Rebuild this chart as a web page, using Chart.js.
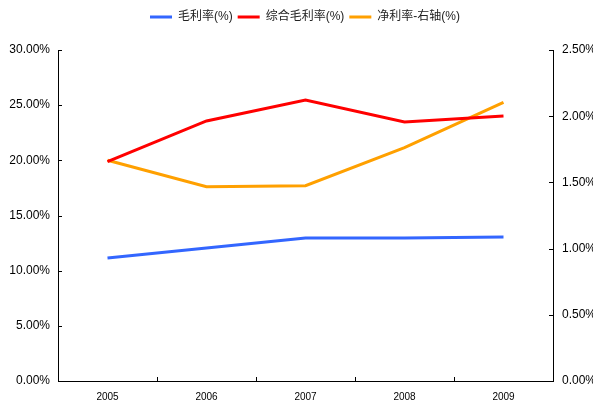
<!DOCTYPE html>
<html>
<head>
<meta charset="utf-8">
<script src="https://cdn.jsdelivr.net/npm/chart.js@4/dist/chart.umd.min.js"></script>
<style>
html,body{margin:0;padding:0;background:#fff;overflow:hidden;}
#wrap{width:593px;height:403px;overflow:hidden;position:relative;}
canvas{display:block;}
</style>
</head>
<body>
<div id="wrap"><canvas id="c" width="610" height="403"></canvas></div>
<script>
const categories = ['2005', '2006', '2007', '2008', '2009'];
const grossMargin = [11.15, 12.05, 12.96, 12.96, 13.05];
const compGrossMargin = [19.88, 23.57, 25.47, 23.48, 24.02];
const netMargin = [1.667, 1.468, 1.475, 1.762, 2.105];
const seriesNames = ['毛利率(%)', '综合毛利率(%)', '净利率-右轴(%)'];

const FONT = '"Liberation Sans", Arial, "Noto Sans CJK SC", sans-serif';
const CW = 610;
const PLOT_TOP = 50;
const TOP_PAD = 6;

const legendSizer = {
  id: 'legendSizer',
  afterInit(chart) {
    const lg = chart.legend;
    if (!lg || lg._patched) return;
    const orig = lg.fit;
    lg.fit = function () {
      orig.call(this);
      this.height = PLOT_TOP - TOP_PAD;
    };
    lg._patched = true;
  }
};

const innerTicks = {
  id: 'innerTicks',
  afterDraw(chart) {
    const ctx = chart.ctx;
    const {left, right, bottom} = chart.chartArea;
    const yl = chart.scales.y, yr = chart.scales.y1, x = chart.scales.x;
    const L = 4;
    ctx.save();
    ctx.strokeStyle = '#000';
    ctx.lineWidth = 1;
    ctx.beginPath();
    yl.ticks.forEach(t => {
      const p = Math.round(yl.getPixelForValue(t.value)) + 0.5;
      ctx.moveTo(left, p); ctx.lineTo(left + L, p);
    });
    yr.ticks.forEach(t => {
      const p = Math.round(yr.getPixelForValue(t.value)) + 0.5;
      ctx.moveTo(right, p); ctx.lineTo(right - L, p);
    });
    for (let i = 0; i < categories.length - 1; i++) {
      const p = Math.round((x.getPixelForValue(i) + x.getPixelForValue(i + 1)) / 2) + 0.5;
      ctx.moveTo(p, bottom); ctx.lineTo(p, bottom - L);
    }
    ctx.stroke();
    ctx.restore();
  }
};

new Chart(document.getElementById('c'), {
  type: 'line',
  data: {
    labels: categories,
    datasets: [
      {label: seriesNames[0], data: grossMargin, borderColor: '#3366ff', backgroundColor: '#3366ff', yAxisID: 'y'},
      {label: seriesNames[1], data: compGrossMargin, borderColor: '#ff0000', backgroundColor: '#ff0000', yAxisID: 'y'},
      {label: seriesNames[2], data: netMargin, borderColor: '#ffa000', backgroundColor: '#ffa000', yAxisID: 'y1'}
    ]
  },
  options: {
    responsive: false,
    animation: false,
    devicePixelRatio: 1,
    elements: {
      line: {borderWidth: 3, tension: 0},
      point: {radius: 0}
    },
    layout: {padding: {top: TOP_PAD, left: 0, right: 0, bottom: 0}},
    plugins: {
      tooltip: {enabled: false},
      legend: {
        position: 'top',
        labels: {
          font: {family: FONT, size: 12},
          color: '#222',
          boxWidth: 22,
          boxHeight: 0,
          padding: 5
        }
      }
    },
    scales: {
      x: {
        offset: true,
        grid: {display: true, drawOnChartArea: false, drawTicks: false, offset: true},
        border: {color: '#000', width: 1},
        ticks: {font: {family: FONT, size: 10}, color: '#000', padding: 10, maxRotation: 0},
        afterFit(s) { s.height = 22; }
      },
      y: {
        position: 'left',
        min: 0, max: 30,
        grid: {display: true, drawOnChartArea: false, drawTicks: false},
        border: {color: '#000', width: 1},
        ticks: {stepSize: 5, font: {family: FONT, size: 12}, color: '#000', padding: 8,
          callback: v => v.toFixed(2) + '%'},
        afterFit(s) { s.width = 58; }
      },
      y1: {
        position: 'right',
        min: 0, max: 2.5,
        grid: {display: true, drawOnChartArea: false, drawTicks: false},
        border: {color: '#000', width: 1},
        ticks: {stepSize: 0.5, font: {family: FONT, size: 12}, color: '#000', padding: 9,
          callback: v => v.toFixed(2) + '%'},
        afterFit(s) { s.width = CW - 553; }
      }
    }
  },
  plugins: [legendSizer, innerTicks]
});
</script>
</body>
</html>
